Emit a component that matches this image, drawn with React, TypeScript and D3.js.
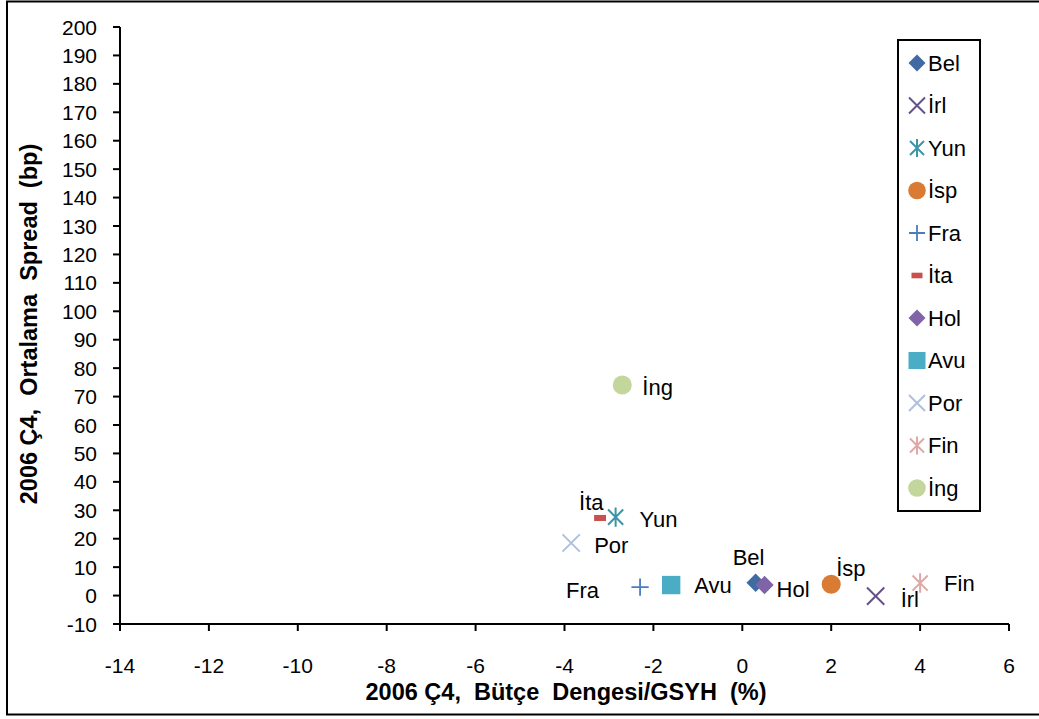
import React from "react";
import * as d3 from "d3";

const countries = ["Bel", "İrl", "Yun", "İsp", "Fra", "İta", "Hol", "Avu", "Por", "Fin", "İng"];
const balance = [0.3, 3.0, -2.85, 2.0, -2.3, -3.2, 0.5, -1.6, -3.85, 4.0, -2.7];
const spread = [4.5, -0.2, 27.6, 4.0, 3.0, 27.3, 3.7, 3.7, 18.5, 4.4, 74.1];
const shapes = ["diamond", "x", "star", "circle", "plus", "dash", "diamond", "square", "x", "star", "circle"];
const colors = ["#3F6AA3", "#65508A", "#3A95A8", "#D97B33", "#4A7CC0", "#C8504D", "#8064A7", "#4BACC6", "#AFC0DE", "#E0A8A4", "#C3D69B"];
// data-label offsets relative to each point (text start, baseline)
const labelDx = [-23, 25, 24, 5, -74, -21, 12, 23, 23, 24, 20];
const labelDy = [-18, 11, 10, -8, 11, -8, 12, 8, 10, 8, 10];

const xTicks = [-14, -12, -10, -8, -6, -4, -2, 0, 2, 4, 6];
const yTicks = d3.range(-10, 201, 10);

const FONT = "'Liberation Sans', Arial, sans-serif";

function Marker({ shape, color, x, y, s = 1 }: { shape: string; color: string; x: number; y: number; s?: number }) {
  const t = `translate(${x},${y}) scale(${s})`;
  switch (shape) {
    case "diamond":
      return <path transform={t} d="M0,-8.5L8.5,0L0,8.5L-8.5,0Z" fill={color} />;
    case "circle":
      return <circle transform={t} r={8.8} fill={color} />;
    case "square":
      return <rect transform={t} x={-8.5} y={-8.5} width={17} height={17} fill={color} />;
    case "x":
      return <path transform={t} d="M-8,-8L8,8M-8,8L8,-8" stroke={color} strokeWidth={2 / s} fill="none" />;
    case "star":
      return <path transform={t} d="M-7,-7L7,7M-7,7L7,-7M0,-9L0,9" stroke={color} strokeWidth={2 / s} fill="none" />;
    case "plus":
      return <path transform={t} d="M-8,0L8,0M0,-8L0,8" stroke={color} strokeWidth={1.8 / s} fill="none" />;
    case "dash":
      return <rect transform={t} x={-5.5} y={-2.8} width={11} height={5.6} fill={color} />;
    default:
      return null;
  }
}

export default function App() {
  const W = 1039, H = 719;
  const x = d3.scaleLinear().domain([-14, 6]).range([120, 1009]);
  const y = d3.scaleLinear().domain([-10, 200]).range([624, 27]);
  const tickFs = 21;
  const labelFs = 22;
  const titleFs = 23.5;

  return (
    <svg width={W} height={H} style={{ position: "absolute", left: 0, top: 0, background: "#fff" }} fontFamily={FONT}>
      <rect x={7} y={1.5} width={1100} height={713} fill="#fff" stroke="#000" strokeWidth={2} />
      {/* axes */}
      <line x1={x(-14)} x2={x(-14)} y1={y(-10)} y2={y(200)} stroke="#000" strokeWidth={2} />
      <line x1={x(-14) - 7} x2={x(6)} y1={y(-10)} y2={y(-10)} stroke="#000" strokeWidth={2} />
      {yTicks.map((v) => (
        <g key={"y" + v}>
          <line x1={x(-14) - 7} x2={x(-14)} y1={y(v)} y2={y(v)} stroke="#000" strokeWidth={2} />
          <text x={97} y={y(v)} dy="0.36em" textAnchor="end" fontSize={tickFs} fill="#000">{v}</text>
        </g>
      ))}
      {xTicks.map((v) => (
        <g key={"x" + v}>
          <line x1={x(v)} x2={x(v)} y1={y(-10)} y2={y(-10) + 7} stroke="#000" strokeWidth={2} />
          <text x={x(v)} y={673} textAnchor="middle" fontSize={tickFs} fill="#000">{v}</text>
        </g>
      ))}
      <text x={566} y={700} textAnchor="middle" fontSize={titleFs} fontWeight="bold" fill="#000" style={{ whiteSpace: "pre" }}>
        {"2006 Ç4,  Bütçe  Dengesi/GSYH  (%)"}
      </text>
      <text transform={`translate(37,324) rotate(-90)`} textAnchor="middle" fontSize={titleFs} fontWeight="bold" fill="#000" style={{ whiteSpace: "pre" }}>
        {"2006 Ç4,  Ortalama  Spread  (bp)"}
      </text>
      {/* points */}
      {countries.map((c, i) => (
        <Marker key={"m" + c} shape={shapes[i]} color={colors[i]} x={x(balance[i])} y={y(spread[i])} s={1.08} />
      ))}
      {countries.map((c, i) => (
        <text key={"l" + c} x={x(balance[i]) + labelDx[i]} y={y(spread[i]) + labelDy[i]} fontSize={labelFs} fill="#000">{c}</text>
      ))}
      {/* legend */}
      <rect x={898} y={40} width={82} height={471} fill="#fff" stroke="#000" strokeWidth={2} />
      {countries.map((c, i) => (
        <g key={"lg" + c}>
          <Marker shape={shapes[i]} color={colors[i]} x={917} y={63 + i * 42.5} />
          <text x={928} y={63 + i * 42.5} dy="0.36em" fontSize={labelFs} fill="#000">{c}</text>
        </g>
      ))}
    </svg>
  );
}
